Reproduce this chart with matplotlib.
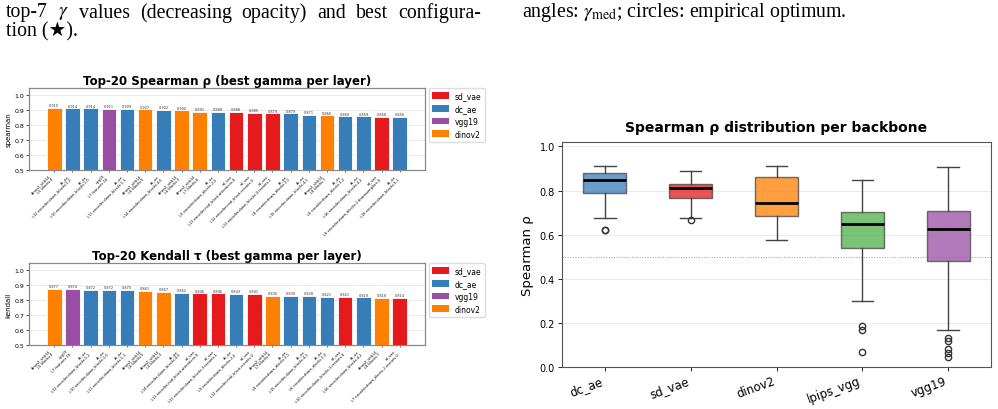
import matplotlib
matplotlib.use("Agg")
import matplotlib.pyplot as plt
from matplotlib.patches import Patch

plt.rcParams['mathtext.fontset'] = 'stix'

W, H = 998, 410

# ---------------- data ----------------
model_colors = {"sd_vae": "#e41a1c", "dc_ae": "#377eb8", "vgg19": "#984ea3", "dinov2": "#ff7f00"}

sp_labels = [
    "dinov2_vitb14\nL5 blocks.4",
    "dc_ae\nL12 encoder.down_blocks.1.2",
    "dc_ae\nL10 encoder.down_blocks.1.0",
    "vgg19\nL7 features.16",
    "dc_ae\nL11 encoder.down_blocks.1.1",
    "dinov2_vitb14\nL6 blocks.5",
    "dc_ae\nL14 encoder.down_blocks.4.0",
    "dinov2_vitb14\nL4 blocks.3",
    "dinov2_vitb14\nL7 blocks.6",
    "dc_ae\nL9 encoder.down_blocks.2.2",
    "sd_vae\nL13 encoder.mid_block.attentions.0",
    "sd_vae\nL12 encoder.mid_block.resnets.0",
    "sd_vae\nL11 encoder.down_blocks.3.resnets.1",
    "dc_ae\nL8 encoder.down_blocks.2.1",
    "dc_ae\nL15 encoder.down_blocks.4.1",
    "dinov2_vitb14\nL8 blocks.7",
    "dc_ae\nL6 encoder.down_blocks.1.2",
    "dc_ae\nL16 encoder.down_blocks.4.2",
    "sd_vae\nL9 encoder.down_blocks.2.downsamplers.0",
    "dc_ae\nL18 encoder.down_blocks.5.1",
]
sp_models = ["dinov2", "dc_ae", "dc_ae", "vgg19", "dc_ae", "dinov2", "dc_ae", "dinov2", "dinov2", "dc_ae",
             "sd_vae", "sd_vae", "sd_vae", "dc_ae", "dc_ae", "dinov2", "dc_ae", "dc_ae", "sd_vae", "dc_ae"]
sp_values = [0.915, 0.914, 0.914, 0.911, 0.909, 0.907, 0.902, 0.900, 0.891, 0.888,
             0.888, 0.885, 0.879, 0.879, 0.871, 0.866, 0.860, 0.859, 0.858, 0.856]

kd_labels = [
    "dinov2_vitb14\nL5 blocks.4",
    "vgg19\nL7 features.16",
    "dc_ae\nL12 encoder.down_blocks.1.2",
    "dc_ae\nL10 encoder.down_blocks.1.0",
    "dc_ae\nL11 encoder.down_blocks.1.1",
    "dinov2_vitb14\nL6 blocks.5",
    "dinov2_vitb14\nL4 blocks.3",
    "dc_ae\nL14 encoder.down_blocks.4.0",
    "sd_vae\nL13 encoder.mid_block.attentions.0",
    "sd_vae\nL11 encoder.down_blocks.3.resnets.1",
    "dc_ae\nL9 encoder.down_blocks.2.2",
    "sd_vae\nL12 encoder.mid_block.resnets.0",
    "dinov2_vitb14\nL7 blocks.6",
    "dc_ae\nL8 encoder.down_blocks.2.1",
    "dc_ae\nL15 encoder.down_blocks.4.1",
    "dc_ae\nL6 encoder.down_blocks.1.2",
    "sd_vae\nL10 encoder.down_blocks.3.resnets.0",
    "dc_ae\nL16 encoder.down_blocks.4.2",
    "dinov2_vitb14\nL8 blocks.7",
    "sd_vae\nL7 encoder.down_blocks.2.resnets.0",
]
kd_models = ["dinov2", "vgg19", "dc_ae", "dc_ae", "dc_ae", "dinov2", "dinov2", "dc_ae", "sd_vae", "sd_vae",
             "dc_ae", "sd_vae", "dinov2", "dc_ae", "dc_ae", "dc_ae", "sd_vae", "dc_ae", "dinov2", "sd_vae"]
kd_values = [0.877, 0.874, 0.872, 0.872, 0.870, 0.861, 0.857, 0.852, 0.846, 0.846,
             0.843, 0.841, 0.830, 0.830, 0.828, 0.821, 0.821, 0.819, 0.818, 0.814]

# box plot stats
backbones = ["dc_ae", "sd_vae", "dinov2", "lpips_vgg", "vgg19"]
box_colors = ["#377eb8", "#e41a1c", "#ff7f00", "#4daf4a", "#984ea3"]
box_med = [0.846, 0.813, 0.744, 0.647, 0.626]
box_q1 = [0.787, 0.768, 0.685, 0.540, 0.481]
box_q3 = [0.878, 0.831, 0.860, 0.703, 0.707]
box_lo = [0.676, 0.677, 0.578, 0.300, 0.170]
box_hi = [0.912, 0.888, 0.912, 0.846, 0.908]
box_fliers = [[0.621, 0.623], [0.667], [], [0.187, 0.167, 0.068], [0.133, 0.119, 0.083, 0.063, 0.045]]

caption_left_1 = ["top-7", r"$\gamma$", "values", "(decreasing", "opacity)", "and", "best", "configura-"]
caption_left_2 = "tion (\u2605)."
caption_right = r"angles: $\gamma_{\mathrm{med}}$; circles: empirical optimum."


def px_axes(fig, l, t, r, b):
    return fig.add_axes([l / W, 1 - b / H, (r - l) / W, (b - t) / H])


fig = plt.figure(figsize=(W / 100, H / 100), dpi=100)

# ---------------- caption text (paper page) ----------------
serif = ["Liberation Serif", "DejaVu Sans"]
cap_fs = 14.3

# justified first line: place words, then spread the gaps
renderer = fig.canvas.get_renderer()
words = [fig.text(0, 1 - 13 / H, w, family=serif, fontsize=cap_fs, va="center", ha="left")
         for w in caption_left_1]
widths = [t.get_window_extent(renderer).width for t in words]
line_l, line_r = 6, 481
gap = (line_r - line_l - sum(widths)) / (len(words) - 1)
xpos = line_l
for t, w in zip(words, widths):
    t.set_x(xpos / W)
    xpos += w + gap

fig.text(6 / W, 1 - 32 / H, caption_left_2, family=serif, fontsize=cap_fs, va="center", ha="left")
fig.text(522 / W, 1 - 13 / H, caption_right, family=serif, fontsize=cap_fs, va="center", ha="left")


# ---------------- bar charts ----------------
def bar_panel(ax, labels, models, values, title, ylabel):
    x = list(range(len(values)))
    cols = [model_colors[m] for m in models]
    ax.bar(x, values, width=0.8, color=cols, edgecolor="white", linewidth=0.6, zorder=3)
    for xi, v in zip(x, values):
        ax.text(xi, v + 0.005, "%.3f" % v, ha="center", va="bottom", fontsize=2.5, color="#333333")
    ax.set_ylim(0.5, 1.05)
    ax.set_yticks([0.5, 0.6, 0.7, 0.8, 0.9, 1.0])
    ax.tick_params(axis="y", labelsize=4.5, length=2, width=0.5, pad=1.5)
    ax.tick_params(axis="x", length=1.5, width=0.4, pad=1)
    ax.set_xticks(x)
    ax.set_xticklabels(labels, rotation=45, ha="right", fontsize=2.6)
    ax.set_ylabel(ylabel, fontsize=5, labelpad=2)
    ax.set_title(title, fontsize=8.5, fontweight="bold", pad=3)
    ax.grid(axis="y", color="#e6e6e6", linewidth=0.6, zorder=0)
    for s in ax.spines.values():
        s.set_color("#888888")
        s.set_linewidth(0.9)
    handles = [Patch(facecolor=model_colors[k], label=k) for k in ["sd_vae", "dc_ae", "vgg19", "dinov2"]]
    ax.legend(handles=handles, loc="upper left", bbox_to_anchor=(1.01, 1.0), fontsize=5.5,
              handlelength=2.2, handleheight=1.0, borderaxespad=0, framealpha=1, edgecolor="#dddddd")


ax1 = px_axes(fig, 29, 89, 425, 171)
bar_panel(ax1, sp_labels, sp_models, sp_values, "Top-20 Spearman \u03c1 (best gamma per layer)", "spearman")

ax2 = px_axes(fig, 29, 264, 425, 346)
bar_panel(ax2, kd_labels, kd_models, kd_values, "Top-20 Kendall \u03c4 (best gamma per layer)", "kendall")

# ---------------- box plot ----------------
ax3 = px_axes(fig, 562, 143, 991, 368)
stats = []
for i, name in enumerate(backbones):
    stats.append({"label": name, "med": box_med[i], "q1": box_q1[i], "q3": box_q3[i],
                  "whislo": box_lo[i], "whishi": box_hi[i], "fliers": box_fliers[i]})
bp = ax3.bxp(stats, positions=range(1, 6), widths=0.5, patch_artist=True,
             boxprops=dict(edgecolor="#444444", linewidth=1.0),
             whiskerprops=dict(color="#444444", linewidth=1.0),
             capprops=dict(color="#444444", linewidth=1.0),
             medianprops=dict(color="black", linewidth=2.0),
             flierprops=dict(marker="o", markerfacecolor="none", markeredgecolor="#333333",
                             markersize=4.5, markeredgewidth=1.0))
for patch, c in zip(bp["boxes"], box_colors):
    patch.set_facecolor(c)
    patch.set_alpha(0.75)
ax3.axhline(0.5, color="#999999", linestyle=":", linewidth=0.7, zorder=0)
ax3.set_xlim(0.5, 5.5)
ax3.set_ylim(0, 1.02)
ax3.set_yticks([0.0, 0.2, 0.4, 0.6, 0.8, 1.0])
ax3.grid(axis="y", color="#ececec", linewidth=0.8, zorder=0)
ax3.set_axisbelow(True)
ax3.tick_params(axis="y", labelsize=7, length=3, width=0.6, pad=2)
ax3.tick_params(axis="x", labelsize=8.5, length=3, width=0.6, pad=2)
plt.setp(ax3.get_xticklabels(), rotation=20, ha="right")
ax3.set_ylabel("Spearman \u03c1", fontsize=9.5, labelpad=4)
ax3.set_title("Spearman \u03c1 distribution per backbone", fontsize=10, fontweight="bold", pad=8)
for s in ax3.spines.values():
    s.set_color("#555555")
    s.set_linewidth(0.8)

fig.savefig("out.png", dpi=100)
